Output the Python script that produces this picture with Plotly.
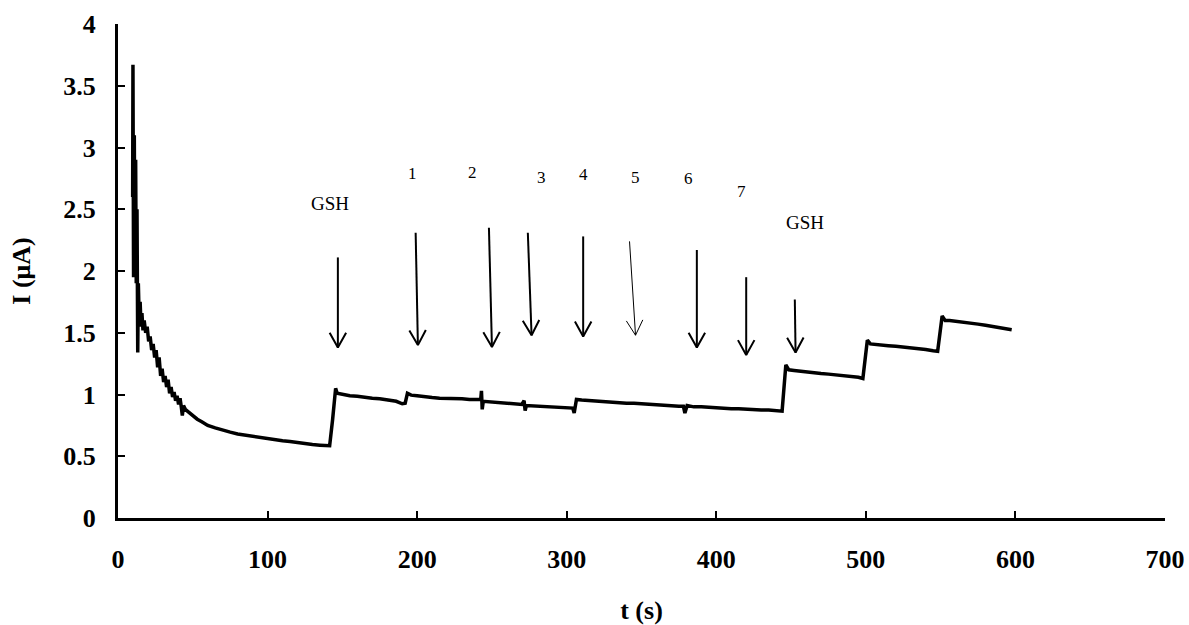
import math
import plotly.graph_objects as go

# ---- data ----
t = [9.8, 10.0, 10.4, 10.9, 11.3, 11.8, 12.2, 12.7, 13.2, 13.6, 14.2, 14.8, 15.4, 16.0, 16.7,
     17.5, 18.5, 19.5, 20.5, 21.5, 22.5, 23.5, 24.5, 25.5, 26.5, 27.5, 28.5, 29.5, 30.5,
     31.5, 32.5, 33.5, 34.5, 35.5, 36.5, 37.5, 38.5, 39.5, 40.5, 41.5, 42.3, 43.0, 43.8,
     45, 47, 50, 53, 56, 60, 65, 70, 75, 80, 85, 90, 95, 100, 105, 110, 115, 120, 125,
     130, 135, 138, 141.5, 143.5, 145.5, 146.5, 150, 155, 160, 165, 170, 175, 180, 186,
     190, 192, 193.5, 196, 200, 205, 210, 215, 220, 225, 230, 235, 240, 242.5, 243.0,
     243.5, 244.2, 250, 255, 260, 265, 270, 271.5, 272.2, 273, 280, 285, 290, 295, 300,
     304, 305, 306.5, 310, 315, 320, 325, 330, 335, 340, 345, 350, 355, 360, 365, 370,
     375, 378, 379, 380.5, 385, 390, 395, 400, 405, 410, 415, 420, 425, 430, 435, 440,
     444, 446.5, 448.5, 452, 455, 460, 465, 470, 475, 480, 485, 490, 495, 498, 501,
     503, 506, 510, 515, 520, 525, 530, 535, 540, 545, 548, 551, 553, 556, 560, 565,
     570, 575, 580, 585, 590, 594, 597.5]
current = [2.6, 3.67, 1.95, 3.1, 2.0, 2.9, 1.9, 2.5, 1.34, 1.9, 1.6, 1.75, 1.55, 1.66, 1.52,
           1.6, 1.5, 1.55, 1.43, 1.47, 1.36, 1.41, 1.3, 1.36, 1.22, 1.3, 1.15, 1.21, 1.1,
           1.15, 1.06, 1.12, 1.01, 1.06, 0.98, 1.02, 0.95, 0.99, 0.92, 0.97, 0.9, 0.83, 0.91,
           0.88, 0.86, 0.83, 0.8, 0.78, 0.75, 0.73, 0.71, 0.695, 0.68, 0.67, 0.665, 0.65, 0.645,
           0.635, 0.625, 0.62, 0.61, 0.605, 0.595, 0.59, 0.585, 0.585, 0.8, 1.05, 1.01, 1.0,
           0.99, 0.985, 0.975, 0.97, 0.965, 0.955, 0.945, 0.925, 0.93, 1.01, 0.995, 0.99,
           0.98, 0.975, 0.97, 0.97, 0.965, 0.965, 0.96, 0.96, 0.96, 1.03, 0.88, 0.945, 0.94,
           0.935, 0.93, 0.925, 0.92, 0.95, 0.87, 0.91, 0.905, 0.9, 0.9, 0.895, 0.895, 0.89,
           0.85, 0.96, 0.955, 0.95, 0.945, 0.94, 0.935, 0.935, 0.93, 0.93, 0.925, 0.92, 0.92,
           0.915, 0.91, 0.905, 0.905, 0.85, 0.91, 0.9, 0.9, 0.895, 0.89, 0.89, 0.885, 0.885,
           0.88, 0.88, 0.875, 0.875, 0.87, 0.865, 1.24, 1.2, 1.195, 1.19, 1.185, 1.18, 1.17,
           1.165, 1.16, 1.15, 1.145, 1.14, 1.13, 1.44, 1.41, 1.405, 1.4, 1.395, 1.39, 1.385,
           1.38, 1.37, 1.365, 1.355, 1.35, 1.635, 1.6, 1.6, 1.595, 1.585, 1.58, 1.57, 1.56,
           1.55, 1.54, 1.53, 1.525]

arrow_tail_t = [147, 199, 248, 274, 311, 342, 387, 420, 452.5]
arrow_tail_i = [2.11, 2.31, 2.35, 2.31, 2.28, 2.24, 2.17, 1.95, 1.77]
arrow_head_t = [147, 200.5, 250, 276.5, 311, 346, 387, 420, 453]
arrow_head_i = [1.38, 1.40, 1.385, 1.48, 1.47, 1.48, 1.38, 1.32, 1.34]
arrow_width = [2, 2, 2, 2, 2, 1, 2, 2, 2]

label_text = ["GSH", "1", "2", "3", "4", "5", "6", "7", "GSH"]
label_t = [141.5, 197, 237, 283, 311.5, 346, 381.5, 417, 459]
label_i = [2.55, 2.79, 2.80, 2.76, 2.78, 2.76, 2.75, 2.64, 2.39]
label_size = [19, 17, 17, 17, 17, 17, 17, 17, 19]

x_ticks = [0, 100, 200, 300, 400, 500, 600, 700]
y_ticks = [0, 0.5, 1, 1.5, 2, 2.5, 3, 3.5, 4]
y_tick_text = ["0", "0.5", "1", "1.5", "2", "2.5", "3", "3.5", "4"]

# ---- layout geometry ----
W, H = 1189, 625
ML, MR, MT, MB = 118, 24, 24, 107
X_RANGE = [0, 700]
Y_RANGE = [0, 4]
px_per_x = (W - ML - MR) / (X_RANGE[1] - X_RANGE[0])
px_per_y = (H - MT - MB) / (Y_RANGE[1] - Y_RANGE[0])

fig = go.Figure()
fig.add_trace(go.Scatter(x=t, y=current, mode="lines",
                         line=dict(color="black", width=3.5), hoverinfo="skip",
                         showlegend=False))

# arrows: shaft + open V head
HEAD_LEN = 17.0
HEAD_ANG = math.radians(29)
for tx, ty, hx, hy, w in zip(arrow_tail_t, arrow_tail_i, arrow_head_t, arrow_head_i, arrow_width):
    fig.add_trace(go.Scatter(x=[tx, hx], y=[ty, hy], mode="lines",
                             line=dict(color="black", width=w), hoverinfo="skip",
                             showlegend=False))
    dxp = (hx - tx) * px_per_x
    dyp = (hy - ty) * px_per_y
    L = math.hypot(dxp, dyp)
    ux, uy = dxp / L, dyp / L
    xs, ys = [], []
    for sgn in (1, -1):
        c, s = math.cos(sgn * HEAD_ANG), math.sin(sgn * HEAD_ANG)
        bx = -(ux * c - uy * s)
        by = -(ux * s + uy * c)
        xs.append(hx + bx * HEAD_LEN / px_per_x)
        ys.append(hy + by * HEAD_LEN / px_per_y)
    fig.add_trace(go.Scatter(x=[xs[0], hx, xs[1]], y=[ys[0], hy, ys[1]], mode="lines",
                             line=dict(color="black", width=w), hoverinfo="skip",
                             showlegend=False))

for txt, lx, ly, sz in zip(label_text, label_t, label_i, label_size):
    fig.add_annotation(x=lx, y=ly, text=txt, showarrow=False,
                       font=dict(family="Liberation Serif", size=sz, color="black"))

tickfont = dict(family="Liberation Serif", size=26, color="black", weight="bold")
titlefont = dict(family="Liberation Serif", size=26, color="black", weight="bold")
fig.update_layout(
    width=W, height=H,
    margin=dict(l=ML, r=MR, t=MT, b=MB, autoexpand=False),
    paper_bgcolor="white", plot_bgcolor="white",
    xaxis=dict(range=X_RANGE, tickvals=x_ticks, showgrid=False, zeroline=False,
               automargin=False,
               showline=True, linecolor="black", linewidth=3,
               ticks="inside", ticklen=7, tickwidth=2, tickcolor="black",
               tickfont=tickfont, ticklabelstandoff=16,
               title=dict(text="t (s)", standoff=30, font=titlefont)),
    yaxis=dict(range=Y_RANGE, tickvals=y_ticks, ticktext=y_tick_text, showgrid=False,
               zeroline=False, showline=True, linecolor="black", linewidth=3,
               automargin=False,
               ticks="inside", ticklen=7, tickwidth=2, tickcolor="black",
               tickfont=tickfont, ticklabelstandoff=14,
               title=dict(text="I (μA)", standoff=26, font=titlefont)),
)

fig.write_html("out.html")
